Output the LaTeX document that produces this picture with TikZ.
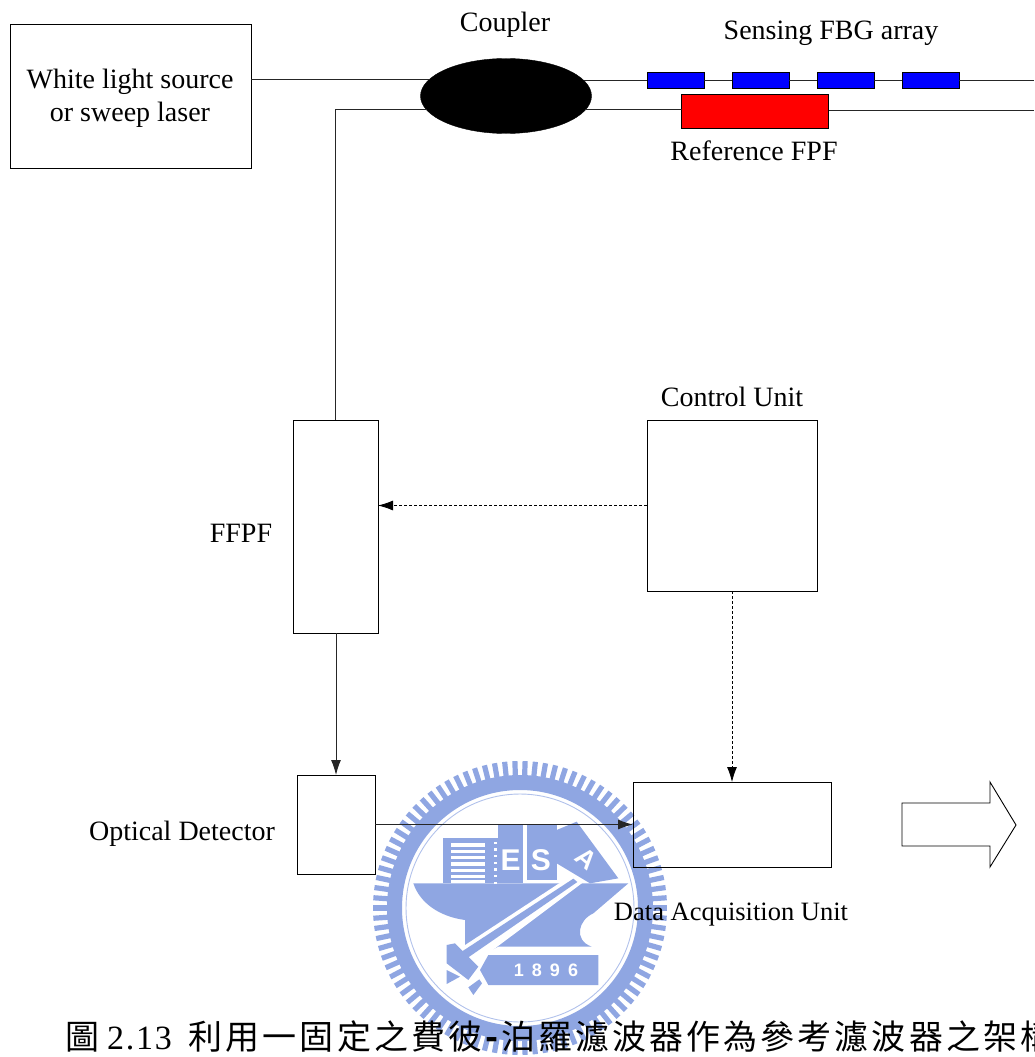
\documentclass[tikz,border=0pt]{standalone}
\usepackage{fontspec}
\setmainfont{Liberation Serif}
\setsansfont{Liberation Sans}
\newfontfamily\cjk[LetterSpace=9]{Noto Sans CJK TC}
\newfontfamily\capnum[LetterSpace=5]{Liberation Serif}
\usepackage{xcolor}
\usetikzlibrary{arrows.meta, positioning, shapes.geometric}
\definecolor{LogoBlue}{RGB}{143,166,226}
\definecolor{GratingBlue}{RGB}{0,0,255}
\definecolor{FilterRed}{RGB}{255,0,0}
\tikzset{
  >={Latex[length=15,width=10]},
  % Blocchi del sistema
  box/.style={draw=black,line width=0.9,minimum width=#1,inner sep=0,outer sep=0,align=center},
  grating/.style={draw=black,line width=0.6,fill=GratingBlue,minimum width=57,minimum height=16,inner sep=0,outer sep=0},
  label/.style={font=\fontsize{28}{33}\selectfont,inner sep=0,align=center},
  % Connessioni
  fibre/.style={line width=1,black!85},
  signal/.style={fibre,->},
  control/.style={line width=0.8,black,dash pattern=on 3 off 2,->},
  logo/.style={fill=LogoBlue,draw=none}
}
\begin{document}
\begin{tikzpicture}[x=1pt,y=-1pt]
  \path[use as bounding box,clip] (0,0) rectangle (1034,1057);

  % logo in filigrana
  \coordinate (seal) at (520,908);
  \draw[LogoBlue,line width=15] (seal) circle (125.5);
  \draw[LogoBlue!70,line width=0.9] (seal) circle (114);
  \foreach \a in {0,4,...,356}
    \fill[LogoBlue,shift={(seal)},rotate=\a] (132,-2.6) rectangle (147,2.6);
  \begin{scope}[shift={(360,750)},scale=1/3]
    \fill[logo] (160,400) -- (805,400) -- (700,490) .. controls (655,510) and (640,570) .. (695,590)
      -- (415,590) -- (315,640) -- (315,510) .. controls (240,500) and (180,460) .. (160,400) -- cycle;
    \fill[logo] (250,265) rectangle (380,400);
    \foreach \y in {280,299,318,337,356,375,390}
      \fill[white] (272,\y) rectangle (375,\y+10);
    \fill[logo] (380,265) rectangle (415,400);
    \foreach \y in {275,295,...,395}
      \fill[white] (402,\y) rectangle (410,\y+7);
    \fill[logo] (415,225) rectangle (490,400);
    \fill[logo] (500,225) rectangle (590,390);
    \fill[logo] (590,240) -- (650,215) -- (775,385) -- (690,400) -- (590,340) -- cycle;
    \node[font=\sffamily\bfseries\fontsize{30}{30}\selectfont,white] (sealE) at (452,330) {E};
    \node[font=\sffamily\bfseries\fontsize{30}{30}\selectfont,white] (sealS) at (543,330) {S};
    \node[font=\sffamily\bfseries\fontsize{26}{26}\selectfont,white,rotate=-40] (sealA) at (678,325) {A};
    \fill[white] (640,372) -- (668,398) -- (345,640) -- (285,605) -- cycle;
    \fill[logo] (640,386) -- (652,396) -- (325,622) -- (305,605) -- cycle;
    \fill[logo] (260,585) -- (285,580) -- (355,650) -- (325,690) -- (260,640) -- cycle;
    \fill[logo] (260,660) -- (300,680) -- (260,702) -- cycle;
    \fill[logo] (325,712) -- (358,688) -- (366,700) -- (340,735) -- cycle;
    \fill[logo] (385,615) -- (715,615) -- (715,705) -- (385,705) -- (360,660) -- cycle;
    \node[font=\sffamily\bfseries\fontsize{18}{18}\selectfont,white] (sealyear) at (558,660) {1\hspace{8pt}8\hspace{8pt}9\hspace{8pt}6};
  \end{scope}

  % blocchi
  \node[box=241,minimum height=144] (source) at (130.5,96) {};
  \node[ellipse,fill=black,draw=black,minimum width=171,minimum height=75,inner sep=0,outer sep=0] (coupler) at (506,96) {};
  \foreach \i/\x in {1/675.5,2/760.5,3/845.5,4/930.5}
    \node[grating] (fbg\i) at (\x,80) {};
  \node[box=147,minimum height=34,fill=FilterRed] (reference) at (755,111) {};
  \node[box=85,minimum height=213] (ffpf) at (335.5,526.5) {};
  \node[box=170,minimum height=171] (controlunit) at (732,505.5) {};
  \node[box=78,minimum height=99] (detector) at (336,824.5) {};
  \node[box=198,minimum height=85] (daq) at (732,824.5) {};
  \coordinate (top end) at (1034,80);
  \coordinate (bottom end) at (1034,110);

  % testi
  \node[label] (sourcelabel) at (130,98) {White light source\\or sweep laser};
  \node[label] (couplerlabel) at (505,25) {Coupler};
  \node[label] (fbglabel) at (831,33) {Sensing FBG array};
  \node[label] (referencelabel) at (754,151) {Reference FPF};
  \node[label] (controllabel) at (732,397) {Control Unit};
  \node[label] (ffpflabel) at (241,533) {FFPF};
  \node[label] (detectorlabel) at (182,834) {Optical Detector};
  \node[label,font=\fontsize{26.5}{33}\selectfont] (daqlabel) at (731,915) {Data Acquisition Unit};
  \node[anchor=base west,inner sep=0,font=\fontsize{34}{34}\selectfont] (caption) at (65,1049)
    {\cjk 圖\hspace{8pt}{\capnum 2.13}\hspace{17pt}利用一固定之費彼\textbf{-}泊羅濾波器作為參考濾波器之架構};

  % collegamenti
  \draw[fibre] (source.east |- coupler.168.3) -- (coupler.168.3);
  \draw[fibre] (coupler.11.7 |- fbg1.west) -- (fbg1.west);
  \foreach \i/\j in {1/2,2/3,3/4}
    \draw[fibre] (fbg\i.east) -- (fbg\j.west);
  \draw[fibre] (fbg4.east) -- (top end);
  \draw[fibre] (coupler.350) -- (reference.west |- coupler.350);
  \draw[fibre] (reference.east |- bottom end) -- (bottom end);
  \draw[fibre] (ffpf.north) -- (ffpf.north |- coupler.190) -- (coupler.190);
  \draw[signal] (detector.north |- ffpf.south) -- (detector.north);
  \draw[signal] (detector.east) -- (daq.west);
  \draw[control] (controlunit.west) -- (ffpf.east |- controlunit.west);
  \draw[control] (controlunit.south) -- (daq.north);
  % freccia di uscita
  \draw[line width=0.9,fill=white] (902,803) -- (990,803) -- (990,782) -- (1016,825) -- (990,867) -- (990,846) -- (902,846) -- cycle;
\end{tikzpicture}
\end{document}
